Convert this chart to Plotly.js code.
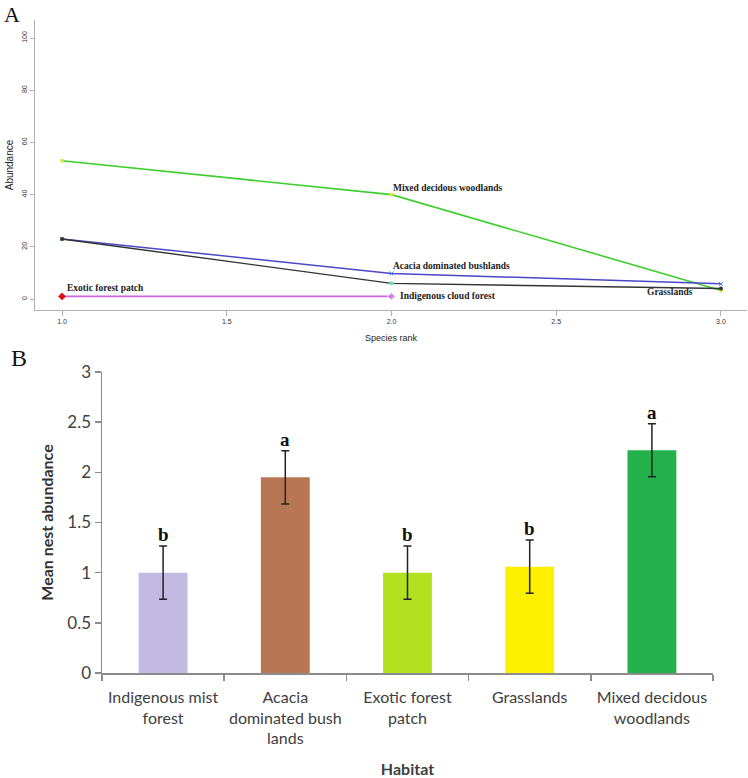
<!DOCTYPE html>
<html>
<head>
<meta charset="utf-8">
<script src="https://cdn.plot.ly/plotly-3.0.1.min.js"></script>
<style>html,body{margin:0;padding:0;background:#fff;}#chart{width:748px;height:778px;}</style>
</head>
<body>
<div id="chart"></div>
<script>
// ---- Panel A data: species rank abundance curves ----
var rankMixed = [1, 2, 3];
var abundMixed = [53, 40, 3.3];
var rankAcacia = [1, 2, 3];
var abundAcacia = [23, 9.8, 5.8];
var rankGrass = [1, 2, 3];
var abundGrass = [23, 6, 4];
var rankIndig = [1, 2];
var abundIndig = [1, 1];
var rankExotic = [1];
var abundExotic = [1];
var xTicksA = [1, 1.5, 2, 2.5, 3];
var yTicksA = [0, 20, 40, 60, 80, 100];

// ---- Panel B data: mean nest abundance per habitat ----
var habitats = ["Indigenous mist<br>forest", "Acacia<br>dominated bush<br>lands", "Exotic forest<br>patch", "Grasslands", "Mixed decidous<br>woodlands"];
var meanNest = [1.0, 1.95, 1.0, 1.06, 2.22];
var seNest = [0.265, 0.265, 0.265, 0.265, 0.265];
var groupLetters = ["b", "a", "b", "b", "a"];
var yTicksB = [0, 0.5, 1, 1.5, 2, 2.5, 3];

var traces = [
  {x: rankMixed, y: abundMixed, type: 'scatter', mode: 'lines+markers', xaxis: 'x', yaxis: 'y',
   line: {color: '#3ccf2e', width: 1.6}, marker: {size: 4, color: '#d8e83a'}, showlegend: false},
  {x: rankAcacia, y: abundAcacia, type: 'scatter', mode: 'lines+markers', xaxis: 'x', yaxis: 'y',
   line: {color: '#4a46c8', width: 1.5}, marker: {size: 4, color: ['#5fb8e8', '#4a78e0', '#4a78e0'], symbol: 'x-thin', line: {width: 1, color: ['#5fb8e8', '#4a78e0', '#4a78e0']}}, showlegend: false},
  {x: rankGrass, y: abundGrass, type: 'scatter', mode: 'lines+markers', xaxis: 'x', yaxis: 'y',
   line: {color: '#333333', width: 1.4}, marker: {size: 4, color: ['#333333', '#6be0a0', '#333333']}, showlegend: false},
  {x: rankIndig, y: abundIndig, type: 'scatter', mode: 'lines+markers', xaxis: 'x', yaxis: 'y',
   line: {color: '#cc66dd', width: 1.8}, marker: {size: [3, 6], color: '#cc66dd', symbol: 'diamond'}, showlegend: false},
  {x: rankExotic, y: abundExotic, type: 'scatter', mode: 'markers', xaxis: 'x', yaxis: 'y',
   marker: {size: 6, color: '#dd1111', symbol: 'diamond'}, showlegend: false},
  {x: habitats, y: meanNest, type: 'bar', xaxis: 'x2', yaxis: 'y2', width: 0.4,
   marker: {color: ['#c3bae3', '#b87754', '#b2e120', '#fff000', '#24b14b']},
   error_y: {type: 'data', array: seNest, visible: true, color: '#222222', thickness: 1.5, width: 4},
   showlegend: false}
];

var lblFont = {family: 'Liberation Serif', size: 9.5, color: '#222'};
var annotations = [
  {text: 'A', x: 0.003, y: 1.0, xref: 'paper', yref: 'paper', xanchor: 'left', yanchor: 'top', showarrow: false,
   font: {family: 'Liberation Serif', size: 22, color: '#111'}},
  {text: 'B', x: 0.012, y: 1 - 343 / 778, xref: 'paper', yref: 'paper', xanchor: 'left', yanchor: 'top', showarrow: false,
   font: {family: 'Liberation Serif', size: 24, color: '#111'}},
  {text: '<b>Mixed decidous woodlands</b>', x: 2.0, y: 40, xref: 'x', yref: 'y', xanchor: 'left', yanchor: 'bottom', showarrow: false, font: lblFont},
  {text: '<b>Acacia dominated bushlands</b>', x: 2.0, y: 9.8, xref: 'x', yref: 'y', xanchor: 'left', yanchor: 'bottom', showarrow: false, font: lblFont},
  {text: '<b>Indigenous cloud forest</b>', x: 2.02, y: 1, xref: 'x', yref: 'y', xanchor: 'left', yanchor: 'middle', showarrow: false, font: lblFont},
  {text: '<b>Exotic forest patch</b>', x: 1.01, y: 1.6, xref: 'x', yref: 'y', xanchor: 'left', yanchor: 'bottom', showarrow: false, font: lblFont},
  {text: '<b>Grasslands</b>', x: 2.845, y: 2.5, xref: 'x', yref: 'y', xanchor: 'center', yanchor: 'middle', showarrow: false, font: lblFont}
];
for (var i = 0; i < habitats.length; i++) {
  annotations.push({text: '<b>' + groupLetters[i] + '</b>', x: habitats[i], y: meanNest[i] + seNest[i],
    xref: 'x2', yref: 'y2', xanchor: 'center', yanchor: 'bottom', yshift: -1, showarrow: false,
    font: {family: 'Liberation Serif', size: 19, color: '#111'}});
}

var layout = {
  width: 748, height: 778,
  margin: {l: 0, r: 0, t: 0, b: 0},
  paper_bgcolor: '#ffffff', plot_bgcolor: 'rgba(0,0,0,0)',
  showlegend: false,
  xaxis: {domain: [35 / 748, 747 / 748], anchor: 'y', range: [0.918, 3.079],
    tickvals: xTicksA, ticktext: xTicksA.map(function (v) { return v.toFixed(1); }),
    showgrid: false, zeroline: false, showline: true, linecolor: '#b0b0b0', linewidth: 1,
    ticks: 'outside', ticklen: 5, tickcolor: '#b0b0b0', tickwidth: 1,
    tickfont: {family: 'Liberation Sans', size: 7, color: '#333'},
    title: {text: 'Species rank', font: {family: 'Liberation Sans', size: 9, color: '#222'}, standoff: 10}},
  yaxis: {domain: [1 - 310 / 778, 1 - 20 / 778], anchor: 'x', range: [-4.21, 106.9],
    tickvals: yTicksA, tickangle: -90,
    showgrid: false, zeroline: false, showline: true, linecolor: '#b0b0b0', linewidth: 1,
    ticks: 'outside', ticklen: 4, tickcolor: '#b0b0b0', tickwidth: 1,
    tickfont: {family: 'Liberation Sans', size: 7, color: '#333'},
    title: {text: 'Abundance', font: {family: 'Liberation Sans', size: 10, color: '#222'}, standoff: 5}},
  xaxis2: {domain: [102 / 748, 713 / 748], anchor: 'y2', type: 'category', range: [-0.5, 4.5],
    showgrid: false, zeroline: false, showline: true, linecolor: '#8c8c8c', linewidth: 1.5,
    ticks: 'outside', tickson: 'boundaries', ticklen: 6, tickcolor: '#8c8c8c', tickwidth: 1.5,
    tickangle: 0, ticklabelstandoff: 9,
    tickfont: {family: 'Lato', size: 16, color: '#404040'},
    title: {text: '<b>Habitat</b>', font: {family: 'Lato', size: 16, color: '#404040'}, standoff: 18}},
  yaxis2: {domain: [1 - 673 / 778, 1 - 372 / 778], anchor: 'x2', range: [0, 3],
    tickvals: yTicksB,
    showgrid: false, zeroline: false, showline: true, linecolor: '#8c8c8c', linewidth: 1.5,
    ticks: 'outside', ticklen: 6, tickcolor: '#8c8c8c', tickwidth: 1.5,
    tickfont: {family: 'Lato', size: 17, color: '#404040'},
    title: {text: '<b>Mean nest abundance</b>', font: {family: 'Lato', size: 16, color: '#333'}, standoff: 10}},
  annotations: annotations
};

Plotly.newPlot('chart', traces, layout, {staticPlot: true, displayModeBar: false});
</script>
</body>
</html>
